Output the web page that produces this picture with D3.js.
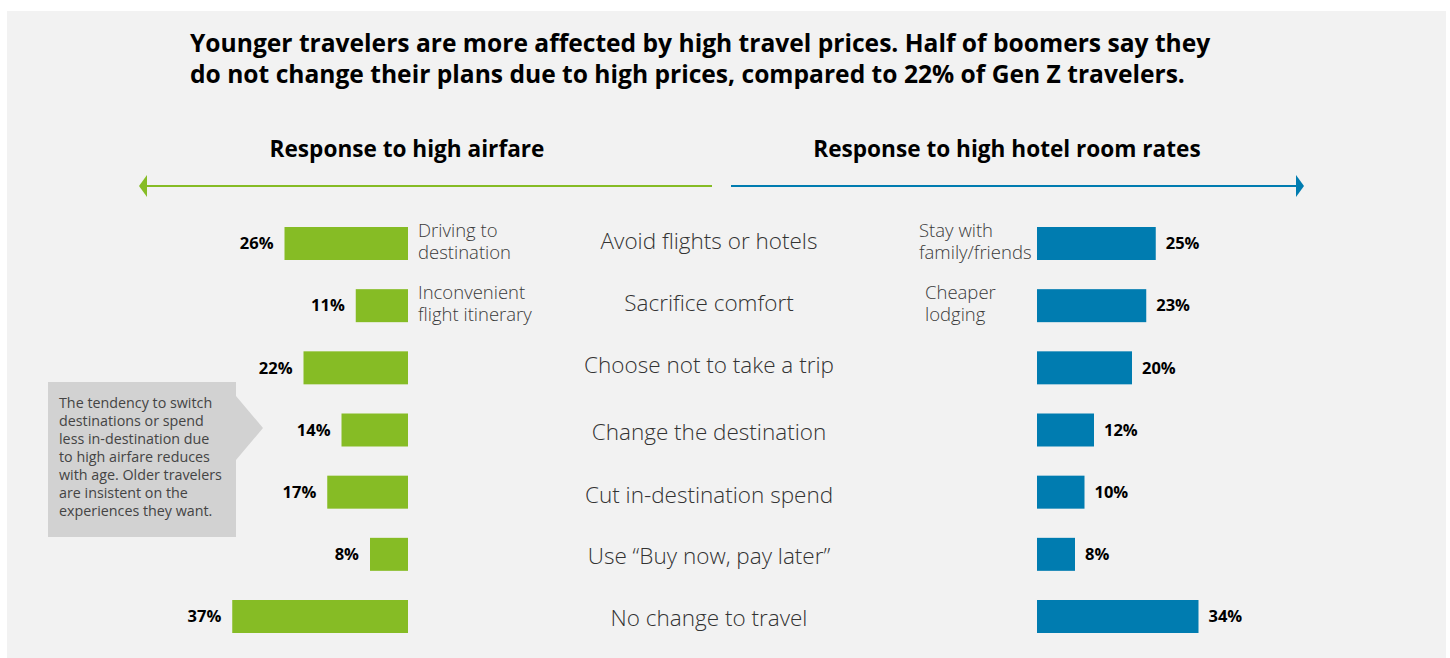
<!DOCTYPE html>
<html>
<head>
<meta charset="utf-8">
<script src="https://cdn.jsdelivr.net/npm/d3@7"></script>
<style>
  html, body { margin: 0; padding: 0; background: #ffffff; }
  svg { display: block; font-family: "Open Sans", "Noto Sans", sans-serif; }
</style>
</head>
<body>
<svg id="chart" width="1450" height="658"></svg>
<script>
// Travel responses to high prices, by category
const categories = [
  "Avoid flights or hotels",
  "Sacrifice comfort",
  "Choose not to take a trip",
  "Change the destination",
  "Cut in-destination spend",
  "Use \u201cBuy now, pay later\u201d",
  "No change to travel"
];
const airfareValues = [26, 11, 22, 14, 17, 8, 37];
const hotelValues = [25, 23, 20, 12, 10, 8, 34];
const airfareNotes = [["Driving to", "destination"], ["Inconvenient", "flight itinerary"], null, null, null, null, null];
const hotelNotes = [["Stay with", "family/friends"], ["Cheaper", "lodging"], null, null, null, null, null];
const titleLines = [
  "Younger travelers are more affected by high travel prices. Half of boomers say they",
  "do not change their plans due to high prices, compared to 22% of Gen Z travelers."
];
const calloutLines = [
  "The tendency to switch",
  "destinations or spend",
  "less in-destination due",
  "to high airfare reduces",
  "with age. Older travelers",
  "are insistent on the",
  "experiences they want."
];

const GREEN = "#86bc25";
const BLUE = "#007cb0";

const svg = d3.select("#chart");

// panel background
svg.append("rect").attr("x", 7).attr("y", 11).attr("width", 1439).attr("height", 647).attr("fill", "#f2f2f2");

// title
svg.append("g").selectAll("text").data(titleLines).join("text")
  .attr("x", 190).attr("y", (d, i) => 52 + i * 31)
  .attr("font-size", 24.6).attr("font-weight", 700).attr("fill", "#000")
  .text(d => d);

// section headers
svg.append("text").attr("x", 407).attr("y", 157).attr("text-anchor", "middle")
  .attr("font-size", 22.6).attr("font-weight", 700).attr("fill", "#000").text("Response to high airfare");
svg.append("text").attr("x", 1007).attr("y", 157).attr("text-anchor", "middle")
  .attr("font-size", 22.6).attr("font-weight", 700).attr("fill", "#000").text("Response to high hotel room rates");

// direction arrows
const arrowY = 186;
svg.append("line").attr("x1", 146).attr("x2", 712).attr("y1", arrowY).attr("y2", arrowY)
  .attr("stroke", GREEN).attr("stroke-width", 2.2);
svg.append("path").attr("d", `M139,${arrowY} L147,${arrowY - 11} L147,${arrowY + 11} Z`).attr("fill", GREEN);
svg.append("line").attr("x1", 731).attr("x2", 1297).attr("y1", arrowY).attr("y2", arrowY)
  .attr("stroke", BLUE).attr("stroke-width", 2.2);
svg.append("path").attr("d", `M1304,${arrowY} L1296,${arrowY - 11} L1296,${arrowY + 11} Z`).attr("fill", BLUE);

// scales
const y = d3.scalePoint().domain(categories).range([243.5, 616.5]);
const barH = 33;
const pxPerPct = 4.75;
const leftX = d3.scaleLinear().domain([0, 100]).range([408, 408 - 100 * pxPerPct]);
const rightX = d3.scaleLinear().domain([0, 100]).range([1037, 1037 + 100 * pxPerPct]);

// airfare bars (grow leftwards)
const left = svg.append("g");
left.selectAll("rect").data(airfareValues).join("rect")
  .attr("x", d => leftX(d)).attr("width", d => leftX(0) - leftX(d))
  .attr("y", (d, i) => y(categories[i]) - barH / 2).attr("height", barH)
  .attr("fill", GREEN);
left.selectAll("text").data(airfareValues).join("text")
  .attr("x", d => leftX(d) - 11).attr("y", (d, i) => y(categories[i]))
  .attr("dy", "0.35em").attr("text-anchor", "end")
  .attr("font-size", 16.5).attr("font-weight", 700).attr("fill", "#000")
  .text(d => d + "%");

// hotel bars (grow rightwards)
const right = svg.append("g");
right.selectAll("rect").data(hotelValues).join("rect")
  .attr("x", rightX(0)).attr("width", d => rightX(d) - rightX(0))
  .attr("y", (d, i) => y(categories[i]) - barH / 2).attr("height", barH)
  .attr("fill", BLUE);
right.selectAll("text").data(hotelValues).join("text")
  .attr("x", d => rightX(d) + 10).attr("y", (d, i) => y(categories[i]))
  .attr("dy", "0.35em").attr("text-anchor", "start")
  .attr("font-size", 16.5).attr("font-weight", 700).attr("fill", "#000")
  .text(d => d + "%");

// center category labels (small per-row baseline nudges)
const labelNudge = [-2, -3, -3, 2, 3, 2, 2];
svg.append("g").selectAll("text").data(categories).join("text")
  .attr("x", 709).attr("y", (d, i) => y(d) + labelNudge[i])
  .attr("dy", "0.35em").attr("text-anchor", "middle")
  .attr("font-size", 22.5).attr("font-weight", 300).attr("fill", "#333")
  .text(d => d);

// notes next to the bars
function drawNotes(notes, xPos) {
  notes.forEach((lines, i) => {
    if (!lines) return;
    const t = svg.append("text").attr("font-size", 18.5).attr("font-weight", 300)
      .attr("fill", "#3a3a3a");
    lines.forEach((ln, j) => {
      t.append("tspan").attr("x", xPos[i]).attr("y", y(categories[i]) - 7 + j * 22.5).text(ln);
    });
  });
}
drawNotes(airfareNotes, [418, 418]);
drawNotes(hotelNotes, [919, 925]);

// callout
const callout = svg.append("g");
callout.append("path")
  .attr("d", "M48,382 L236,382 L236,396 L263,428 L236,460 L236,537 L48,537 Z")
  .attr("fill", "#d2d2d2");
callout.append("text").attr("font-size", 14.3).attr("fill", "#444")
  .selectAll("tspan").data(calloutLines).join("tspan")
  .attr("x", 59).attr("y", (d, i) => 408 + i * 18)
  .text(d => d);
</script>
</body>
</html>
